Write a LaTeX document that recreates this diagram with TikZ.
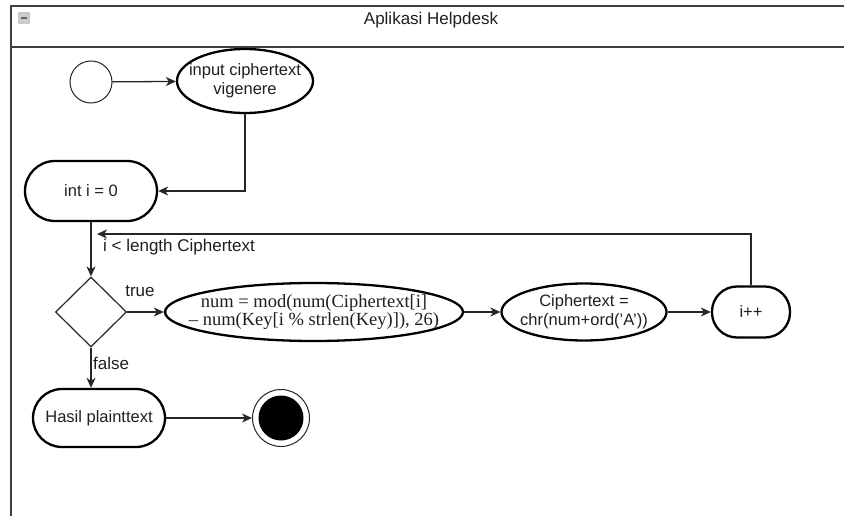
\documentclass[tikz,border=0pt]{standalone}
\usepackage{fontspec}
\setmainfont{Liberation Sans}
\newfontfamily\serifnum{Liberation Serif}
\usetikzlibrary{arrows.meta,shapes.geometric}
\begin{document}
\begin{tikzpicture}[x=1pt,y=1pt,
  every node/.style={font=\fontsize{16.5}{19}\selectfont, text=black!88},
  act/.style={draw=black, line width=2.3pt, fill=white, align=center, inner sep=0pt},
  ell/.style={act, ellipse},
  stad/.style={act, rectangle, rounded corners=#1},
  conn/.style={draw=black!85, line width=1.3pt, -{Stealth[length=10pt,width=9pt,inset=3pt]}},
  lbl/.style={font=\fontsize{17}{19}\selectfont, inner sep=0pt}
]
\useasboundingbox (0,0) rectangle (844,-516);
% frame
\draw[black!75, line width=1.4pt] (11,-516) -- (11,-6) -- (844,-6);
\draw[black!75, line width=1.4pt] (11,-47) -- (844,-47);
\node[draw=black!45, fill=black!20, minimum width=11pt, minimum height=11pt, inner sep=0pt, rounded corners=1pt] (icon) at (24,-18) {};
\draw[black!60, line width=1.2pt] ([xshift=2.5pt]icon.west) -- ([xshift=-2.5pt]icon.east);
\node[lbl] (title) at (431,-20) {Aplikasi Helpdesk};

% nodes
\node[draw=black!85, line width=1pt, circle, minimum size=42pt, inner sep=0pt, fill=white] (start) at (91,-82) {};
\node[ell, minimum width=136pt, minimum height=64pt, label={[align=center, inner sep=0pt]center:input ciphertext\\vigenere}] (input) at (245,-81) {};
\node[stad=30pt, minimum width=132pt, minimum height=60pt] (init) at (91,-191) {int i = 0};
\node[draw=black!85, line width=1.2pt, diamond, minimum width=71pt, minimum height=70pt, inner sep=0pt, fill=white] (dec) at (91,-312) {};
\node[ell, minimum width=298pt, minimum height=58pt, label={[align=center, inner sep=0pt, font=\serifnum\fontsize{18.5}{18}\selectfont]center:num = mod(num(Ciphertext[i]\\– num(Key[i \% strlen(Key)]), 26)}] (num) at (314,-312) {};
\node[ell, minimum width=165pt, minimum height=57pt, label={[align=center, inner sep=0pt]center:Ciphertext =\\chr(num+ord('A'))}] (ct) at (584,-312) {};
\node[stad=25pt, minimum width=78pt, minimum height=51pt] (inc) at (751,-312) {i++};
\node[stad=29pt, minimum width=132pt, minimum height=58pt] (hasil) at (99,-418) {Hasil plainttext};
\node[draw=black!85, line width=1pt, circle, minimum size=57pt, inner sep=0pt, fill=white] (end) at (281,-418) {};
\node[circle, fill=black, minimum size=45pt, inner sep=0pt] (endin) at (end.center) {};

% connectors
\draw[conn] (start) -- (input);
\draw[conn] (input.south) |- (init.east);
\draw[conn] (init.south) -- (dec.north);
\draw[conn] (dec.east) -- (num.west);
\draw[conn] (num.east) -- (ct.west);
\draw[conn] (ct.east) -- (inc.west);
\coordinate (loopend) at (97,-234);
\draw[conn] (inc.north) |- (loopend);
\draw[conn] (dec.south) -- (dec.south |- hasil.north);
\draw[conn] (hasil.east) -- (end.west);

% labels
\node[lbl, anchor=west] (cond) at (103,-247) {i < length Ciphertext};
\node[lbl] (ltrue) at (140,-291) {true};
\node[lbl, anchor=west] (lfalse) at (93,-363) {false};
\end{tikzpicture}
\end{document}
